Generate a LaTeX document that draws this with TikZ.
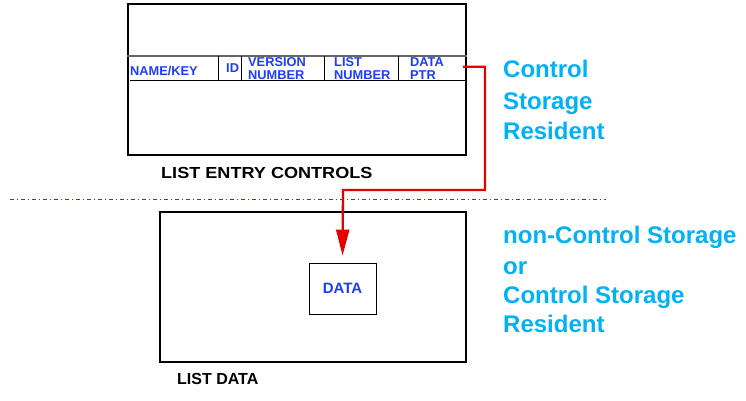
\documentclass[tikz,border=0pt]{standalone}
\usepackage{fontspec}
\setmainfont{Liberation Sans}
\usetikzlibrary{arrows.meta}
\definecolor{fieldblue}{RGB}{28,60,255}
\definecolor{noteblue}{RGB}{0,178,245}
\definecolor{linkred}{RGB}{228,0,0}
\tikzset{
  frame/.style={draw=black, line width=2.5pt, inner sep=0pt},
  field/.style={text=fieldblue, font=\fontsize{12.8}{13}\selectfont\bfseries, anchor=base west, inner sep=0pt, align=left},
  caption/.style={text=black, font=\fontsize{16}{18}\selectfont\bfseries, anchor=base west, inner sep=0pt},
  note/.style={text=noteblue, font=\fontsize{24}{29}\selectfont\bfseries, anchor=base west, inner sep=0pt},
  link/.style={draw=linkred, line width=2.3pt, -{Triangle[length=26pt,width=13pt]}},
  divider/.style={draw=black, line width=0.8pt}
}
\begin{document}
\begin{tikzpicture}[x=1pt,y=-1pt]
\useasboundingbox (0,0) rectangle (746,400);
\fill[white] (0,0) rectangle (746,400);

% list entry controls block
\node[frame, minimum width=338pt, minimum height=151pt] (entry) at (297,79.5) {};
\draw[draw=black!60, line width=1.6pt] (127,55.7) -- (entry.east |- 0,55.7);
\foreach \x in {218,241,324,398} \draw[divider] (\x,55.7) -- (\x,80);

\node[field] (namekey) at (130,75) {NAME/KEY};
\node[field] (id) at (226,72) {ID};
\node[field] (version) at (248,66) {VERSION};
\node[field] (versionnum) at (248,79) {NUMBER};
\node[field] (list) at (334,66) {LIST};
\node[field] (listnum) at (334,79) {NUMBER};
\node[field] (data1) at (410,66) {DATA};
\node[field] (ptr) at (410,79) {PTR};
% lower edge of the field band, drawn over the second text row
\draw[divider] (130,80) -- (entry.east |- 0,80);

\node[caption] (entrycap) at (161,178) {\scalebox{1.13}[1]{LIST ENTRY CONTROLS}};

% storage boundary
\draw[draw=fieldblue, line width=0.6pt, dash pattern=on 4pt off 3pt on 1pt off 3pt] (10,199) -- (606,199);

% list data block
\node[frame, minimum width=306pt, minimum height=150pt] (listdata) at (313,287) {};
\node[draw=black, line width=0.9pt, minimum width=67pt, minimum height=51pt, inner sep=0pt,
      text=fieldblue, font=\fontsize{15}{16}\selectfont\bfseries] (data) at (342.5,288.5) {DATA};
\node[caption] (datacap) at (177,384) {LIST DATA};

% data pointer
\coordinate (ptrout) at (463,66.7);
\coordinate (turn) at (343,190);
\draw[link, shorten >=7pt] (ptrout) -- ++(22,0) |- (turn) -- (data.north);

% residency notes
\node[note] (n1) at (503,77) {Control};
\node[note] (n2) at (503,109) {Storage};
\node[note] (n3) at (503,139) {Resident};
\node[note] (m1) at (503,243) {non-Control Storage};
\node[note] (m2) at (503,274) {or};
\node[note] (m3) at (503,303) {Control Storage};
\node[note] (m4) at (503,332) {Resident};
\end{tikzpicture}
\end{document}
